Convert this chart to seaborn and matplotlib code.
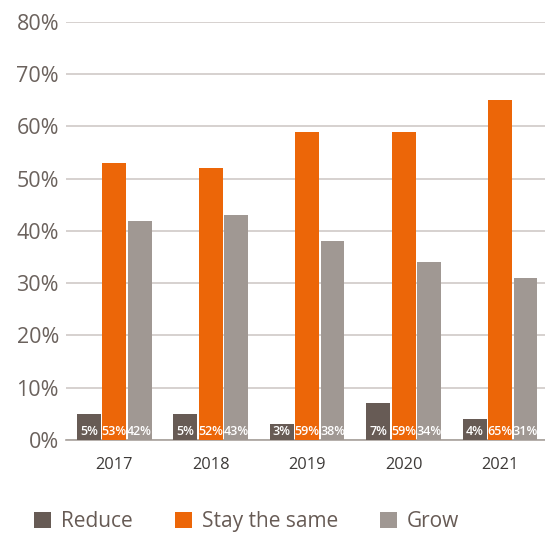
import matplotlib
matplotlib.use("Agg")
import matplotlib.pyplot as plt
import seaborn as sns
import pandas as pd

years = ["2017", "2018", "2019", "2020", "2021"]
reduce_vals = [5, 5, 3, 7, 4]
same_vals = [53, 52, 59, 59, 65]
grow_vals = [42, 43, 38, 34, 31]
series_names = ["Reduce", "Stay the same", "Grow"]
colors = ["#675b55", "#ec6608", "#a09893"]
y_ticks = [0, 10, 20, 30, 40, 50, 60, 70, 80]

rows = []
for name, vals in zip(series_names, [reduce_vals, same_vals, grow_vals]):
    for y, v in zip(years, vals):
        rows.append({"Year": y, "Series": name, "Value": v})
df = pd.DataFrame(rows)

sns.set_style("white")
plt.rcParams["font.family"] = ["Open Sans", "DejaVu Sans"]

fig = plt.figure(figsize=(5.45, 5.34), dpi=100)
ax = fig.add_axes([0.121, 0.176, 0.885, 0.783])

sns.barplot(data=df, x="Year", y="Value", hue="Series", order=years,
            hue_order=series_names, palette=colors, width=0.79, gap=0.06,
            saturation=1, ax=ax, legend=True, zorder=3, linewidth=0,
            edgecolor="none")

ax.set_ylim(0, 80)
ax.set_xlim(-0.5, 4.5)
ax.set_yticks(y_ticks)
ax.set_yticklabels([f"{t}%" for t in y_ticks], fontsize=15.5, color="#6b625d")
ax.tick_params(axis="y", length=0, pad=5)
ax.tick_params(axis="x", length=0, pad=12, labelsize=11.8, labelcolor="#3d3a38")
ax.set_xlabel("")
ax.set_ylabel("")
ax.grid(axis="y", color="#d3cecb", linewidth=1.3, zorder=0)
ax.set_axisbelow(True)
for s in ["top", "right", "left"]:
    ax.spines[s].set_visible(False)
ax.spines["bottom"].set_color("#a8a19c")
ax.spines["bottom"].set_linewidth(1.2)

for cont in ax.containers:
    for bar in cont:
        h = bar.get_height()
        ax.text(bar.get_x() + bar.get_width() / 2, 1.6, f"{int(round(h))}%",
                ha="center", va="center", color="white", fontsize=9,
                fontweight="semibold", zorder=5)

handles, labels = ax.get_legend_handles_labels()
ax.legend(handles, labels, loc="center", bbox_to_anchor=(0.375, -0.195),
          ncol=3, frameon=False, fontsize=15, handlelength=0.8,
          handleheight=0.8, handletextpad=0.5, columnspacing=2.0,
          labelcolor="#675b55")

fig.savefig("out.png", dpi=100)
